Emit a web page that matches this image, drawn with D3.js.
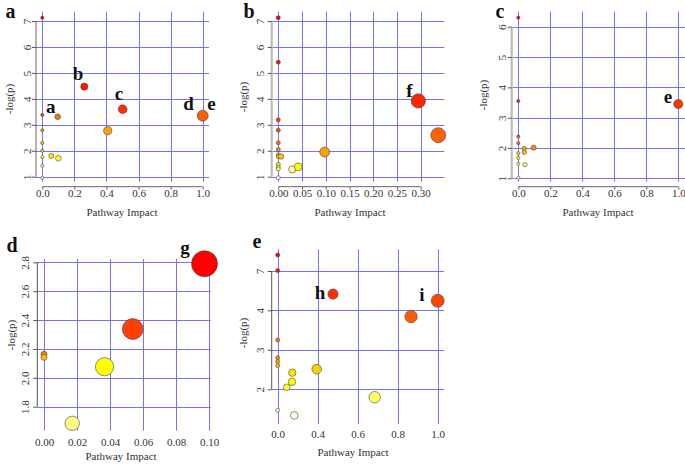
<!DOCTYPE html>
<html><head><meta charset="utf-8">
<script src="https://cdn.jsdelivr.net/npm/d3@7"></script>
<style>body{margin:0;background:#fff}svg{display:block}</style>
</head><body>
<svg id="chart" width="685" height="464"></svg>
<script>
// ---------- DATA ----------
const aImpact = [0,0,0,0,0,0,0,0,0.056,0.10,0.408,0.096,0.262,0.501,1.0];
const aLogP   = [7.13,3.38,2.79,2.30,2.00,1.75,1.42,0.96,1.80,1.71,2.77,3.31,4.47,3.60,3.35];
const aXTicks = [0,0.2,0.4,0.6,0.8,1.0];
const aYTicks = [1,2,3,4,5,6,7];
const aLabels = ["a","b","c","d","e"];

const bImpact = [0,0,0,0,0,0,0,0,0,0,0,0,0.0057,0.0295,0.042,0.0977,0.295,0.337];
const bLogP   = [7.13,5.41,3.19,2.79,2.31,2.05,1.84,1.77,1.48,1.37,1.30,0.96,1.78,1.28,1.38,1.95,3.92,2.60];
const bXTicks = [0,0.05,0.10,0.15,0.20,0.25,0.30];
const bYTicks = [1,2,3,4,5,6,7];
const bLabels = ["f"];

const cImpact = [0,0,0,0,0,0,0,0,0.0375,0.0375,0.096,0.042,1.0];
const cLogP   = [6.30,3.55,2.38,2.16,1.83,1.67,1.48,1.02,1.98,1.86,2.01,1.45,3.45];
const cXTicks = [0,0.2,0.4,0.6,0.8,1.0];
const cYTicks = [1,2,3,4,5,6];
const cLabels = ["e"];

const dImpact = [0,0,0.0171,0.0367,0.0538,0.0973];
const dLogP   = [2.163,2.142,1.685,2.077,2.338,2.79];
const dXTicks = [0,0.02,0.04,0.06,0.08,0.10];
const dYTicks = [1.8,2.0,2.2,2.4,2.6,2.8];
const dLabels = ["g"];

const eImpact = [0,0,0,0,0,0,0,0.09,0.146,0.143,0.166,0.39,0.4765,0.685,0.867,1.0];
const eLogP   = [8.22,7.03,3.25,2.80,2.70,2.60,1.47,2.05,2.42,2.19,1.34,2.51,5.24,1.80,3.84,4.73];
const eXTicks = [0,0.4,0.6,0.8,1.0];
const eYTicks = [2,3,4,7];
const eLabels = ["h","i"];

const panelLetters = ["a","b","c","d","e"];
const xTitle = "Pathway Impact";
const yTitle = "-log(p)";

// ---------- HELPERS ----------
function hsv(h, s, v) {
  const i = Math.floor(h * 6), f = h * 6 - i;
  const p = v * (1 - s), q = v * (1 - f * s), t = v * (1 - (1 - f) * s);
  let r, g, b;
  switch (i % 6) {
    case 0: r = v; g = t; b = p; break;
    case 1: r = q; g = v; b = p; break;
    case 2: r = p; g = v; b = t; break;
    case 3: r = p; g = q; b = v; break;
    case 4: r = t; g = p; b = v; break;
    default: r = v; g = p; b = q;
  }
  return d3.rgb(r * 255, g * 255, b * 255).formatHex();
}
function heatColors(n) {
  const j = Math.floor(n / 4), i = n - j, out = [];
  for (let k = 0; k < i; k++) out.push(hsv(i > 1 ? k / (i - 1) / 6 : 0, 1, 1));
  const s0 = 1 - 1 / (2 * j), s1 = 1 / (2 * j);
  for (let k = 0; k < j; k++) out.push(hsv(1 / 6, j > 1 ? s0 + k * (s1 - s0) / (j - 1) : s0, 1));
  return out;
}

const svg = d3.select("#chart");
const SERIF = "Liberation Serif, Times New Roman, serif";
const GRID = "#7373ff";

function panel(cfg) {
  const g = svg.append("g");
  const x = cfg.x, y = cfg.y;
  const n = cfg.impact.length;
  const pts = d3.range(n).map(i => ({ ix: cfg.impact[i], lp: cfg.logp[i] }));
  const order = d3.range(n).sort((a, b) => pts[b].lp - pts[a].lp);
  const cols = heatColors(n);
  order.forEach((idx, rk) => pts[idx].col = cols[rk]);
  const r = d3.scaleSqrt().domain([0, d3.max(cfg.impact)]).range(cfg.rRange);

  // grid
  g.append("g").selectAll("line").data(cfg.yTicks).join("line")
    .attr("x1", cfg.box[0]).attr("x2", cfg.box[1])
    .attr("y1", d => Math.round(y(d)) + 0.5).attr("y2", d => Math.round(y(d)) + 0.5)
    .attr("stroke", GRID).attr("stroke-width", 1);
  g.append("g").selectAll("line").data(cfg.xTicks).join("line")
    .attr("y1", cfg.box[2]).attr("y2", cfg.box[3])
    .attr("x1", d => Math.round(x(d)) + 0.5).attr("x2", d => Math.round(x(d)) + 0.5)
    .attr("stroke", GRID).attr("stroke-width", 1);

  // y axis
  const yA = d3.axisLeft(y).tickValues(cfg.yTicks).tickSize(4).tickFormat(cfg.yFmt);
  const ya = g.append("g").attr("transform", `translate(${cfg.yAxisX},0)`).call(yA);
  ya.select(".domain").attr("stroke", cfg.yAxisColor).attr("stroke-width", cfg.yAxisW)
    .attr("d", `M0,${y(cfg.yTicks[0])}V${y(cfg.yTicks[cfg.yTicks.length - 1])}`);
  ya.selectAll(".tick line").attr("stroke", "#555");
  ya.selectAll(".tick text")
    .attr("font-family", SERIF).attr("font-size", 11).attr("fill", "#333")
    .attr("x", null).attr("text-anchor", "middle")
    .attr("transform", `translate(${cfg.yLabX - cfg.yAxisX},0) rotate(-90)`)
    .attr("dy", "0.35em");

  // x axis
  const xA = d3.axisBottom(x).tickValues(cfg.xTicks).tickSize(cfg.xAxisLine ? 3 : 0).tickFormat(cfg.xFmt);
  const xa = g.append("g").attr("transform", `translate(0,${cfg.xAxisY})`).call(xA);
  if (cfg.xAxisLine) {
    xa.select(".domain").attr("stroke", "#666")
      .attr("d", `M${x(cfg.xTicks[0])},0H${x(cfg.xTicks[cfg.xTicks.length - 1])}`);
  } else xa.select(".domain").remove();
  xa.selectAll(".tick line").attr("stroke", "#666");
  xa.selectAll(".tick text").attr("font-family", SERIF).attr("font-size", 11).attr("fill", "#333")
    .attr("y", cfg.xLabY - cfg.xAxisY).attr("dy", "0.35em");

  // titles
  g.append("text").attr("x", cfg.xTitlePos[0]).attr("y", cfg.xTitlePos[1])
    .attr("text-anchor", "middle").attr("font-family", SERIF).attr("font-size", 11).attr("fill", "#333")
    .text(xTitle);
  g.append("text").attr("transform", `translate(${cfg.yTitlePos[0]},${cfg.yTitlePos[1]}) rotate(-90)`)
    .attr("text-anchor", "middle").attr("dy", "0.35em").attr("font-family", SERIF).attr("font-size", 11).attr("fill", "#333")
    .text(yTitle);

  // points
  g.append("g").selectAll("circle").data(pts).join("circle")
    .attr("cx", d => x(d.ix)).attr("cy", d => y(d.lp)).attr("r", d => r(d.ix))
    .attr("fill", d => d.col).attr("stroke", "#444").attr("stroke-width", 0.6);

  // annotation labels
  g.append("g").selectAll("text").data(cfg.labels).join("text")
    .attr("x", (d, i) => cfg.labelAt[i][0]).attr("y", (d, i) => cfg.labelAt[i][1])
    .attr("text-anchor", "middle").attr("font-family", SERIF).attr("font-weight", "bold")
    .attr("font-size", 19).attr("fill", "#111").text(d => d);

  // panel letter
  g.append("text").attr("x", cfg.letterAt[0]).attr("y", cfg.letterAt[1])
    .attr("text-anchor", "middle").attr("font-family", SERIF).attr("font-weight", "bold")
    .attr("font-size", 20).attr("fill", "#111").text(cfg.letter);
}

const f1 = d3.format(".1f"), f2 = d3.format(".2f"), f0 = d3.format("d");

panel({
  impact: aImpact, logp: aLogP, xTicks: aXTicks, yTicks: aYTicks, labels: aLabels, letter: panelLetters[0],
  x: d3.scaleLinear().domain([0, 1]).range([42.3, 202.7]),
  y: d3.scaleLinear().domain([1, 7]).range([176.7, 21]),
  box: [36, 209, 11.7, 181.7], rRange: [1.6, 5.5],
  yAxisX: 36, yAxisColor: "#666", yAxisW: 1, yLabX: 27, yFmt: f0,
  xAxisLine: true, xAxisY: 186.7, xLabY: 193.5, xFmt: f1,
  xTitlePos: [122, 216], yTitlePos: [9, 99],
  labelAt: [[50.7, 112.5], [78, 79.5], [119, 99.5], [188.5, 110], [211.5, 110]],
  letterAt: [10.5, 18]
});
panel({
  impact: bImpact, logp: bLogP, xTicks: bXTicks, yTicks: bYTicks, labels: bLabels, letter: panelLetters[1],
  x: d3.scaleLinear().domain([0, 0.3]).range([278.3, 420.7]),
  y: d3.scaleLinear().domain([1, 7]).range([176.7, 21]),
  box: [271.7, 444.3, 11.7, 181.7], rRange: [2, 7.5],
  yAxisX: 271.7, yAxisColor: "#bbb", yAxisW: 2.2, yLabX: 260, yFmt: f0,
  xAxisLine: true, xAxisY: 186.7, xLabY: 193.5, xFmt: f2,
  xTitlePos: [350, 216], yTitlePos: [243, 97],
  labelAt: [[409.3, 97]],
  letterAt: [249, 18]
});
panel({
  impact: cImpact, logp: cLogP, xTicks: cXTicks, yTicks: cYTicks, labels: cLabels, letter: panelLetters[2],
  x: d3.scaleLinear().domain([0, 1]).range([518.3, 678.3]),
  y: d3.scaleLinear().domain([1, 6]).range([178.3, 26.7]),
  box: [511.7, 685, 11.7, 181.7], rRange: [1.6, 4.6],
  yAxisX: 511.7, yAxisColor: "#bbb", yAxisW: 2.2, yLabX: 501.7, yFmt: f0,
  xAxisLine: true, xAxisY: 186.7, xLabY: 193.5, xFmt: f1,
  xTitlePos: [598, 216], yTitlePos: [483, 95],
  labelAt: [[668, 103]],
  letterAt: [500, 18]
});
panel({
  impact: dImpact, logp: dLogP, xTicks: dXTicks, yTicks: dYTicks, labels: dLabels, letter: panelLetters[3],
  x: d3.scaleLinear().domain([0, 0.1]).range([44, 209]),
  y: d3.scaleLinear().domain([1.8, 2.8]).range([406.7, 262.3]),
  box: [37.3, 210.7, 259, 430.7], rRange: [3, 13],
  yAxisX: 37.3, yAxisColor: "#555", yAxisW: 1, yLabX: 25, yFmt: f1,
  xAxisLine: false, xAxisY: 430.7, xLabY: 442, xFmt: f2,
  xTitlePos: [121, 460], yTitlePos: [11, 335],
  labelAt: [[185, 253.5]],
  letterAt: [12, 251.7]
});
panel({
  impact: eImpact, logp: eLogP, xTicks: eXTicks, yTicks: eYTicks, labels: eLabels, letter: panelLetters[4],
  x: d3.scaleLinear().domain([0, 0.4, 1.0]).range([277.7, 317.7, 437.7]),
  y: d3.scaleLinear().domain([2, 4, 7]).range([389.3, 310.3, 271]),
  box: [271.7, 444, 249.3, 424], rRange: [2, 6.5],
  yAxisX: 271.7, yAxisColor: "#555", yAxisW: 1, yLabX: 260, yFmt: f0,
  xAxisLine: false, xAxisY: 424, xLabY: 433.8, xFmt: f1,
  xTitlePos: [353, 455.5], yTitlePos: [243, 333],
  labelAt: [[320, 298.5], [422, 301]],
  letterAt: [257, 248.3]
});
</script>
</body></html>
